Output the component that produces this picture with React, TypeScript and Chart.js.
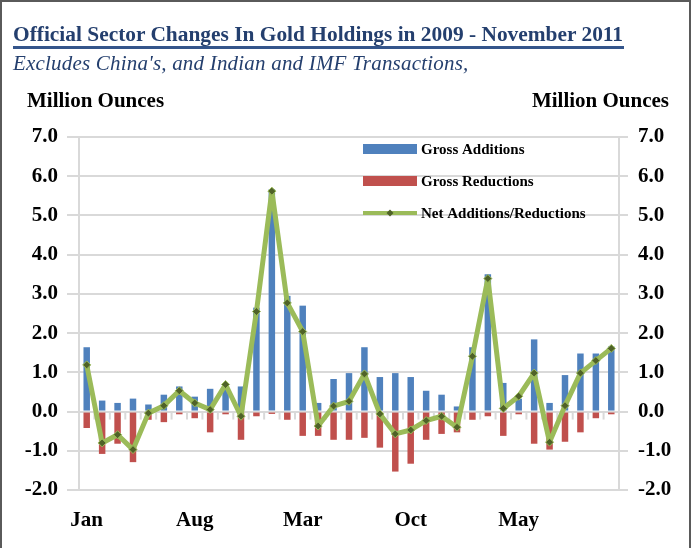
import React, { useEffect, useRef } from "react";
import { Chart, registerables } from "chart.js";

Chart.register(...registerables);

const months = [
  "Jan", "Feb", "Mar", "Apr", "May", "Jun", "Jul", "Aug", "Sep", "Oct", "Nov", "Dec",
  "Jan", "Feb", "Mar", "Apr", "May", "Jun", "Jul", "Aug", "Sep", "Oct", "Nov", "Dec",
  "Jan", "Feb", "Mar", "Apr", "May", "Jun", "Jul", "Aug", "Sep", "Oct", "Nov",
];

const grossAdditions = [
  1.64, 0.28, 0.22, 0.33, 0.18, 0.43, 0.64, 0.38, 0.58, 0.64, 0.64, 2.65,
  5.67, 2.95, 2.7, 0.22, 0.83, 0.98, 1.64, 0.88, 0.98, 0.88, 0.53, 0.43,
  0.13, 1.64, 3.5, 0.73, 0.33, 1.84, 0.22, 0.93, 1.48, 1.48, 1.66,
];

const grossReductions = [
  -0.42, -1.08, -0.82, -1.29, -0.21, -0.27, -0.07, -0.17, -0.53, -0.07, -0.72, -0.12,
  -0.06, -0.21, -0.62, -0.62, -0.72, -0.72, -0.67, -0.92, -1.53, -1.33, -0.72, -0.57,
  -0.53, -0.21, -0.12, -0.62, -0.07, -0.82, -0.97, -0.77, -0.53, -0.17, -0.07,
];

const netChanges = [
  1.19, -0.8, -0.59, -0.97, -0.04, 0.15, 0.53, 0.22, 0.05, 0.69, -0.12, 2.55,
  5.62, 2.77, 2.04, -0.37, 0.14, 0.26, 0.96, -0.06, -0.57, -0.47, -0.23, -0.12,
  -0.4, 1.41, 3.39, 0.08, 0.39, 0.98, -0.78, 0.15, 0.98, 1.3, 1.61,
];

const labelEvery = 7;
const yMin = -2;
const yMax = 7;

const seriesNames = ["Gross Additions", "Gross Reductions", "Net Additions/Reductions"];

const BLUE = "#4F81BD";
const RED = "#C0504D";
const GREEN = "#9BBB59";
const DARKGREEN = "#4F6228";
const GRID = "#D9D9D9";
const SERIF = "'Liberation Serif', 'Times New Roman', serif";

const zeroTicksPlugin = {
  id: "zeroTicks",
  beforeDatasetsDraw(chart: any) {
    const x = chart.scales.x;
    const y = chart.scales.y;
    const ctx = chart.ctx;
    const y0 = y.getPixelForValue(0);
    const n = chart.data.labels.length;
    const step = (x.right - x.left) / n;
    ctx.save();
    ctx.strokeStyle = GRID;
    ctx.lineWidth = 2;
    for (let i = 0; i <= n; i++) {
      const px = x.left + i * step;
      ctx.beginPath();
      ctx.moveTo(px, y0);
      ctx.lineTo(px, y0 + 8);
      ctx.stroke();
    }
    ctx.restore();
  },
};

const legendPlugin = {
  id: "insideLegend",
  afterDatasetsDraw(chart: any) {
    const ctx = chart.ctx;
    const a = chart.chartArea;
    const bx = a.left + 284;
    const bw = 54;
    const rows = [a.top + 12, a.top + 44, a.top + 76];
    ctx.save();
    ctx.font = `bold 15px ${SERIF}`;
    ctx.textBaseline = "middle";
    ctx.fillStyle = BLUE;
    ctx.fillRect(bx, rows[0] - 5, bw, 10);
    ctx.fillStyle = RED;
    ctx.fillRect(bx, rows[1] - 5, bw, 10);
    ctx.strokeStyle = GREEN;
    ctx.lineWidth = 4;
    ctx.beginPath();
    ctx.moveTo(bx, rows[2]);
    ctx.lineTo(bx + bw, rows[2]);
    ctx.stroke();
    const cx = bx + bw / 2;
    ctx.fillStyle = DARKGREEN;
    ctx.beginPath();
    ctx.moveTo(cx, rows[2] - 3.5);
    ctx.lineTo(cx + 3.5, rows[2]);
    ctx.lineTo(cx, rows[2] + 3.5);
    ctx.lineTo(cx - 3.5, rows[2]);
    ctx.closePath();
    ctx.fill();
    ctx.fillStyle = "#000";
    seriesNames.forEach((s, i) => {
      ctx.fillText(s, bx + bw + 4, rows[i] + 1);
    });
    ctx.restore();
  },
};

export default function App() {
  const ref = useRef<HTMLCanvasElement | null>(null);

  useEffect(() => {
    document.body.style.margin = "0";
    if (!ref.current) return;
    const tickFont = { family: SERIF, size: 21, weight: "bold" as const };
    const chart = new Chart(ref.current, {
      type: "bar",
      data: {
        labels: months,
        datasets: [
          {
            type: "line" as const,
            label: seriesNames[2],
            data: netChanges,
            borderColor: GREEN,
            borderWidth: 5,
            borderJoinStyle: "round",
            borderCapStyle: "round",
            pointStyle: "rectRot",
            pointRadius: 4,
            pointBackgroundColor: DARKGREEN,
            pointBorderColor: GREEN,
            pointBorderWidth: 1,
            tension: 0,
            order: 0,
            yAxisID: "y",
          },
          {
            label: seriesNames[0],
            data: grossAdditions,
            backgroundColor: BLUE,
            grouped: false,
            categoryPercentage: 1,
            barPercentage: 0.42,
            order: 1,
            yAxisID: "y",
          },
          {
            label: seriesNames[1],
            data: grossReductions,
            backgroundColor: RED,
            grouped: false,
            categoryPercentage: 1,
            barPercentage: 0.42,
            order: 2,
            yAxisID: "y",
          },
        ] as any,
      },
      options: {
        responsive: false,
        animation: false,
        devicePixelRatio: 1,
        layout: { padding: { top: 137, left: 0, right: 0, bottom: 0 } },
        plugins: {
          legend: { display: false },
          tooltip: { enabled: false },
          title: { display: false },
        },
        scales: {
          x: {
            offset: true,
            grid: { display: false, drawTicks: false },
            border: { display: false },
            ticks: {
              autoSkip: false,
              maxRotation: 0,
              padding: 18,
              color: "#000",
              font: tickFont,
              callback: (_v: any, i: number) => (i % labelEvery === 0 ? months[i] : ""),
            },
            afterFit: (s: any) => {
              s.height = 58;
            },
          },
          y: {
            position: "left",
            min: yMin,
            max: yMax,
            ticks: {
              stepSize: 1,
              padding: 9,
              color: "#000",
              font: tickFont,
              callback: (v: any) => Number(v).toFixed(1),
            },
            grid: { color: GRID, lineWidth: 2, drawTicks: true, tickLength: 12 },
            border: { display: true, color: GRID, width: 2 },
            afterFit: (s: any) => {
              s.width = 79;
            },
          },
          y2: {
            position: "right",
            min: yMin,
            max: yMax,
            ticks: {
              stepSize: 1,
              padding: 10,
              color: "#000",
              font: tickFont,
              callback: (v: any) => Number(v).toFixed(1),
            },
            grid: { color: GRID, lineWidth: 2, drawOnChartArea: false, drawTicks: true, tickLength: 9 },
            border: { display: true, color: GRID, width: 2 },
            afterFit: (s: any) => {
              s.width = 72;
            },
          },
        },
      } as any,
      plugins: [zeroTicksPlugin, legendPlugin],
    });
    return () => chart.destroy();
  }, []);

  return (
    <div
      style={{
        position: "relative",
        width: 691,
        height: 548,
        boxSizing: "border-box",
        borderLeft: "2px solid #5A5A5A",
        borderTop: "2px solid #5A5A5A",
        borderRight: "2px solid #5A5A5A",
        background: "#fff",
        overflow: "hidden",
      }}
    >
      <canvas
        ref={ref}
        width={691}
        height={548}
        style={{ position: "absolute", left: -2, top: -2, width: 691, height: 548 }}
      />
      <div
        style={{
          position: "absolute",
          left: 11,
          top: 20,
          fontFamily: SERIF,
          fontWeight: "bold",
          fontSize: 21.4,
          color: "#243F6E",
          whiteSpace: "nowrap",
          lineHeight: "24px",
        }}
      >
        Official Sector Changes In Gold Holdings in 2009 - November 2011
      </div>
      <div
        style={{
          position: "absolute",
          left: 11,
          top: 44,
          width: 611,
          height: 3,
          background: "#34558B",
        }}
      />
      <div
        style={{
          position: "absolute",
          left: 11,
          top: 49,
          fontFamily: SERIF,
          fontStyle: "italic",
          fontSize: 21,
          letterSpacing: "0.2px",
          color: "#243F6E",
          whiteSpace: "nowrap",
          lineHeight: "24px",
        }}
      >
        Excludes China's, and Indian and IMF Transactions,
      </div>
      <div
        style={{
          position: "absolute",
          left: 25,
          top: 86,
          fontFamily: SERIF,
          fontWeight: "bold",
          fontSize: 21,
          color: "#000",
          whiteSpace: "nowrap",
          lineHeight: "24px",
        }}
      >
        Million Ounces
      </div>
      <div
        style={{
          position: "absolute",
          right: 20,
          top: 86,
          fontFamily: SERIF,
          fontWeight: "bold",
          fontSize: 21,
          color: "#000",
          whiteSpace: "nowrap",
          lineHeight: "24px",
        }}
      >
        Million Ounces
      </div>
    </div>
  );
}
